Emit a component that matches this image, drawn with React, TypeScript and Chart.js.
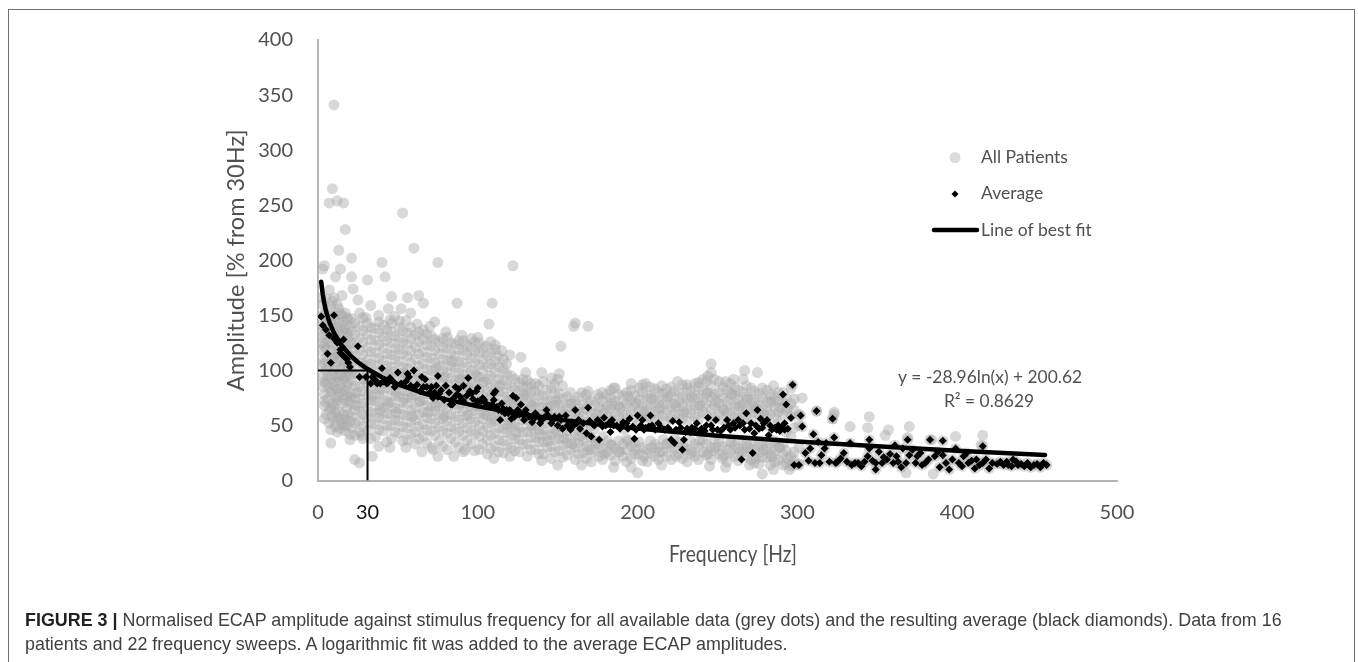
import React, { useEffect, useRef } from "react";
import { Chart, registerables } from "chart.js";

Chart.register(...registerables);

const X_TICKS = [0, 31, 100, 200, 300, 400, 500];
const Y_TICKS = [0, 50, 100, 150, 200, 250, 300, 350, 400];

const greyOutliers = [[10,341],[9,265],[7,252],[12,254],[16,252],[53,243],[17,228],[13,209],[60,211],[21,202],[40,198],[75,198],[4,195],[3,192],[14,192],[11,185],[21,185],[31,182],[42,185],[15,168],[7,173],[22,174],[25,164],[46,167],[56,166],[63,168],[66,161],[87,161],[33,159],[44,156],[52,156],[58,152],[51,145],[45,146],[73,144],[2,166],[122,195],[109,161],[107,142],[161,143],[160,140],[169,140],[152,122],[120,114],[127,112],[111,123],[105,122],[96,129],[246,106],[267,100],[275,98],[244,95],[297,87],[196,88],[185,84],[169,81],[231,87],[238,89],[303,75],[312,63],[323,62],[322,56],[200,7],[196,12],[278,6],[323,60],[333,49],[345,58],[344,48],[357,46],[355,41],[370,49],[369,39],[384,37],[399,40],[416,41],[415,32],[368,7],[385,6],[8,34],[20,37],[27,41],[28,38],[23,19],[26,16],[34,22],[38,31],[72,28],[92,28],[16,50],[14,47]];

const greyColsLow = [
  [2,105,118,130,148],[3,85,94,125,140,160],[4,68,78,110,133,152],[5,60,88,100,120,143,165],[6,74,94,112,126,155],[7,52,64,84,104,136,148],
  [9,58,70,82,96,110,124,138,163],[11,49,62,76,90,102,115,130,150],[13,62,76,90,115,128,144,156],[15,52,70,84,102,120,136,150],[17,45,56,82,94,108,122,138,152],[19,60,72,88,100,114,130,146],
  [21,48,58,69,79,91,101,113,124,136,147],[26,44,54,63,74,85,96,107,118,129,140,152],[31,46,57,67,78,89,99,110,121,133,143],[36,40,51,61,72,83,94,105,116,127,138],
  [41,45,56,66,77,88,98,109,120,131,141],[46,38,50,60,71,82,93,103,114,125,135,143],[51,43,54,65,76,87,97,108,119,129,139],[56,37,48,59,70,81,91,102,113,124,134],
];
const greyColsLow2 = [
  [4,56,72,90,106,122,138,150],[8,46,66,80,92,118,130,144,158],[10,54,68,86,100,112,134,146,166],[12,44,58,72,94,108,122,138,160],[14,56,80,96,110,125,140,152],[16,60,74,92,106,116,132,144],[18,50,66,86,102,118,134,148],[20,42,54,76,96,108,126,140],
  [23,41,52,64,75,86,97,109,120,132,143],[28,49,60,70,81,92,103,114,125,136,148],[33,38,52,62,73,84,95,106,117,128,139],[38,46,57,68,78,90,100,111,123,134,144],[43,35,50,61,72,84,94,104,115,127,137],[48,44,55,66,77,88,99,110,120,131],[53,36,49,60,71,82,93,103,115,125,136],[58,42,53,64,75,86,96,107,118,129,139],
];
const greyColsMid = [
  [61,33,44,55,66,77,88,99,110,121,132],[66,40,51,62,73,84,95,106,117,128,137],[71,30,45,56,67,78,89,100,111,122,131],[76,36,49,60,71,82,93,104,115,126],
  [81,28,43,54,65,76,87,98,109,120,130],[86,35,47,58,69,80,91,102,113,124],[91,26,41,52,63,74,85,96,107,118,127],[96,33,45,56,67,78,89,100,111,121],
  [101,28,40,50,61,72,83,94,105,116,125],[106,24,37,48,59,70,81,92,103,113],[111,31,43,54,65,76,87,98,108,119],[116,25,36,47,58,69,80,91,101,110],
  [121,30,41,52,63,74,85,95],[126,26,37,48,59,70,80,89],[131,22,33,44,55,66,76,85,91],[136,28,39,50,61,71,81,88],[141,24,35,46,57,67,77,90],[146,20,31,42,53,63,73,84,93],
  [151,27,38,49,59,69,79,97],[156,23,34,45,56,66,76],[161,19,30,41,52,62,72],[166,25,36,47,58,69],[171,17,28,39,50,61,72],[176,22,33,55,66,75],
];
const greyColsMid2 = [
  [63,38,49,60,71,82,93,104,115,126,135],[68,34,46,57,68,79,90,101,112,123,133],[73,41,52,63,74,85,96,107,118,128],[78,31,45,56,67,78,89,100,110,121,129],[83,38,49,60,71,82,93,104,115,125],[88,30,44,55,66,77,88,98,108,119,127],[93,36,48,59,70,81,92,103,114,123],[98,27,42,53,64,75,86,97,107,117,126],
  [103,33,45,56,67,78,89,100,110,120],[108,29,41,52,63,74,85,95,106,116],[113,26,37,48,59,70,81,92,103,113],[118,32,44,55,66,76,87,97,106],[123,27,38,50,60,71,82,92],[128,33,44,55,65,75,85,92],[133,28,39,50,60,71,80,88],[138,24,35,46,57,67,77,86],
  [143,30,41,52,62,72,82],[148,26,37,47,58,68,79,88],[153,21,32,43,54,64,74,86],[158,28,38,50,60,70,80],[163,24,34,45,56,66,76],[168,20,31,42,53,65,78],[173,26,36,47,57,68],[178,19,29,40,60,72,80],
];
const greyColsHigh = [
  [181,26,36,58,68,78],[186,18,29,52,62,72,84],[191,22,33,47,57,67,77],[196,20,31,62,72,82],[201,24,35,53,64,74,84],[206,17,28,58,68,78],[211,22,33,54,63,73,83],[216,26,37,59,69,79],
  [221,19,30,56,66,76,85],[226,24,35,60,71,80],[231,17,28,54,64,74,84],[236,22,33,58,68,78,88],[241,26,37,62,72,82,92],[246,19,30,55,65,76,86,98],[251,24,35,60,70,80,90],[256,17,28,52,62,72,82],
  [261,22,32,57,67,77,85],[266,26,36,60,70,80,92],[271,19,29,55,65,74,84],[276,15,25,34,60,69,79],[281,21,30,50,63,72,82],[286,17,27,36,57,67,76],[291,14,24,33,60,71,80],[296,13,22,40,58,70,84],[301,15,30,50,60],
];
const greyColsHigh2 = [
  [183,23,33,55,65,75,82],[188,26,36,58,68,78],[193,17,28,38,60,70,80],[198,24,34,57,67,77],[203,18,30,60,70,80,87],[208,25,36,55,65,75,85],[213,19,30,60,70,80],[218,22,33,54,64,74,83],
  [223,28,38,60,70,81],[228,20,31,56,67,76,87],[233,24,36,61,71,81],[238,19,30,55,65,75,85],[243,23,33,60,70,79,90],[248,27,37,58,68,78,92],[253,20,31,55,65,75,85],[258,25,35,59,69,79,88],
  [263,18,29,54,63,73,82],[268,22,33,58,66,76,86],[273,16,27,36,62,71,81],[278,21,31,55,65,75,84],[283,14,24,34,60,70,78],[288,19,30,52,62,72,80],[293,15,27,44,64,75],[298,18,26,48,64,74],
];
const greyInner = [[15,95],[12,83],[18,77],[24,68],[24,80],[29,92],[29,105],[34,76],[34,90],[39,64],[39,83],[44,70],[44,96],[49,62],[49,80],[54,74],[54,98],[59,58],[59,78],[64,72],[64,92],[69,62],[69,84],[74,68],[74,102],[79,58],[79,94],[84,78],[84,108],[89,70],[89,92],[94,60],[94,84],[99,68],[99,95],[104,60],[104,90],[109,56],[109,78],[114,62],[114,86],[119,50],[119,72],[124,44],[124,66],[129,58],[129,78],[134,48],[134,68],[139,42],[139,60],[144,36],[144,66],[149,45],[149,72],[154,38],[154,60],[159,33],[159,70],[164,40],[164,62],[169,28],[169,72],[174,34],[174,60],[179,24],[179,64],[184,32],[184,70],[189,26],[189,66],[194,36],[194,76],[199,28],[199,70],[204,22],[204,62],[209,30],[209,74],[214,26],[214,66],[219,34],[219,76],[224,22],[224,68],[229,30],[229,62],[234,26],[234,76],[239,36],[239,68],[244,24],[244,80],[249,30],[249,72],[254,22],[254,64],[259,34],[259,78],[264,26],[264,68],[269,30],[269,74],[274,20],[274,66],[279,28],[279,60],[284,22],[284,72],[289,30],[289,66],[294,20],[294,66]];
const greyTopEdge = [[30,148],[38,150],[48,149],[55,145],[62,142],[70,140],[80,135],[90,132],[100,130],[108,126],[115,118],[130,98],[140,98],[150,92],[165,80],[175,78],[205,88],[215,86],[225,90],[255,90],[260,92],[285,86]];
const greyLowEdge = [[45,30],[55,30],[65,26],[75,22],[85,22],[110,20],[120,22],[140,18],[150,14],[165,14],[185,12],[215,14],[245,13],[255,12],[270,14],[285,10],[295,10]];

const avgEarly = [[2,149],[10,150],[3,141],[5,137],[7,132],[10,129],[16,128],[12,125],[14,119],[25,122],[6,115],[8,107],[19,107],[16,113],[40,102],[50,98],[60,100],[56,97],[65,94],[75,95],[94,93],[66,85],[74,86],[80,86],[86,85],[91,86],[100,84],[95,81],[26,94],[30,94],[34,94],[33,88],[37,88],[43,88],[48,85],[60,84],[64,81],[72,75],[79,73],[84,69],[90,73],[91,72],[57,94],[67,92],[71,85],[77,82],[88,83],[99,81],[45,93],[44,89],[39,88],[20,103],[14,116],[18,110],[99,69],[75,76],[83,69],[85,75]];
const avgBand = [[36,91],[41,90],[47,90],[52,88],[55,90],[58,86],[62,87],[68,85],[70,80],[73,80],[76,79],[82,80],[87,78],[89,76],[93,77],[97,74],[100,72],[104,73],[107,68],[109,69],[113,64],[116,65],[119,61],[123,58],[125,64],[128,60],[132,58],[135,56],[138,58],[140,55],[144,59],[148,58],[152,55],[156,50],[159,53],[162,52],[166,52],[170,54],[172,51],[177,52],[180,50],[182,52],[185,50],[190,50],[193,52],[197,49],[199,46],[202,50],[204,46],[209,50],[211,46],[214,48],[217,46],[220,46],[227,48],[230,44],[233,44],[236,47],[239,44],[242,45],[246,50],[250,46],[254,48],[257,50],[260,52],[264,50],[267,46],[271,52],[274,50],[276,47],[279,52],[283,50],[286,48],[288,50],[290,48],[292,52]];
const avgMid = [[111,81],[110,79],[122,77],[124,75],[127,69],[114,55],[121,56],[96,79],[103,75],[110,73],[115,70],[117,61],[120,64],[126,62],[130,64],[129,55],[134,53],[139,52],[136,61],[143,64],[142,58],[146,52],[151,58],[150,50],[153,47],[158,46],[161,64],[169,66],[155,59],[164,47],[168,43],[171,40],[176,37],[175,55],[179,57],[184,55],[183,44],[191,53],[195,56],[198,38],[200,59],[203,55],[208,59],[213,52],[102,72],[105,70],[112,67],[115,63],[118,64],[122,61],[126,60],[130,61],[147,55],[160,50],[163,55],[173,50],[178,49],[187,50],[189,47],[194,47],[205,48],[207,49]];
const avgLateBand = [[219,48],[222,54],[226,53],[221,37],[223,34],[229,37],[228,28],[224,46],[231,47],[237,52],[244,57],[249,55],[256,55],[263,55],[268,61],[275,64],[277,56],[281,55],[270,47],[273,43],[265,19],[272,25],[291,78],[293,69],[297,87],[296,57],[294,47],[282,41],[287,46],[215,48],[234,48],[240,47],[243,50],[247,46],[252,45],[258,46],[261,48],[266,52],[278,48],[284,46],[289,45],[292,46]];
const avgLate = [[302,59],[303,49],[312,63],[322,56],[323,39],[308,29],[313,35],[317,29],[315,23],[307,18],[311,16],[314,16],[320,17],[325,17],[298,14],[301,14],[333,34],[345,37],[345,29],[329,25],[324,16],[334,14],[338,16],[342,17],[349,10],[349,16],[353,16],[354,21],[358,24],[361,32],[366,29],[363,17],[365,12],[369,37],[370,23],[375,22],[374,16],[380,16],[383,37],[391,36],[386,22],[391,23],[393,16],[395,10],[399,29],[404,22],[407,16],[411,11],[412,19],[416,31],[418,19],[420,11],[425,15],[429,14],[432,14],[435,19],[438,14],[442,13],[448,14],[452,12],[456,14]];
const avgLateLow = [[305,25],[310,42],[318,34],[327,20],[331,17],[336,16],[340,13],[344,22],[347,18],[351,26],[356,19],[360,16],[362,22],[368,16],[372,28],[377,25],[378,14],[382,19],[388,26],[389,12],[397,19],[401,16],[403,13],[406,25],[409,18],[414,14],[416,16],[422,16],[427,17],[431,17],[434,13],[437,17],[440,15],[444,16],[446,12],[450,15],[454,16]];

const fitX = [2,3,4,5,7,10,14,20,25,31,40,50,65,80,100,125,150,175,200,250,300,350,400,455];
const fitY = [180.5,168.8,160.5,154,144.3,134,124.2,113.9,107.4,101.2,93.8,87.3,79.7,73.7,67.3,60.8,55.5,51,47.2,40.7,35.4,31,27,23.2];
const refX = [0,31,31];
const refY = [100,100,0];

const GREY_POINT = "rgba(170,170,170,0.46)";
const AXIS_TEXT = "#505050";
const FONT = "Lato";

const pairs = (xs: number[], ys: number[]) => xs.map((x, i) => ({ x, y: ys[i] }));
const fromPairs = (list: number[][]) => list.map(([x, y]) => ({ x, y }));
const fromColumns = (list: number[][]) => list.flatMap(([x, ...ys]) => ys.map((y) => ({ x, y })));

const notes = {
  id: "notes",
  afterDraw(chart: any) {
    const { ctx } = chart;
    ctx.save();
    ctx.textBaseline = "middle";
    ctx.fillStyle = "#505050";
    ctx.font = `17.5px ${FONT}`;
    ctx.textAlign = "left";
    ctx.fillText("All Patients", 981, 157);
    ctx.fillText("Average", 981, 193);
    ctx.fillText("Line of best fit", 981, 230);
    ctx.textAlign = "center";
    ctx.font = `17.4px ${FONT}`;
    ctx.fillText("y = -28.96ln(x) + 200.62", 990, 377);
    ctx.fillText("R² = 0.8629", 989, 401);
    ctx.save();
    ctx.translate(733, 555);
    ctx.scale(1, 1.18);
    ctx.font = `19.3px ${FONT}`;
    ctx.fillText("Frequency [Hz]", 0, 0);
    ctx.restore();
    ctx.fillStyle = "#dcdcdc";
    ctx.beginPath();
    ctx.arc(955, 157.5, 5.5, 0, Math.PI * 2);
    ctx.fill();
    ctx.fillStyle = "#000";
    ctx.beginPath();
    ctx.moveTo(955, 190.5);
    ctx.lineTo(958.5, 194);
    ctx.lineTo(955, 197.5);
    ctx.lineTo(951.5, 194);
    ctx.closePath();
    ctx.fill();
    ctx.strokeStyle = "#000";
    ctx.lineWidth = 4.5;
    ctx.lineCap = "round";
    ctx.beginPath();
    ctx.moveTo(934, 230);
    ctx.lineTo(977, 230);
    ctx.stroke();
    ctx.restore();
  },
};

export default function App() {
  const ref = useRef<HTMLCanvasElement | null>(null);
  useEffect(() => {
    document.body.style.margin = "0";
    const chart = new Chart(ref.current as HTMLCanvasElement, {
      type: "scatter",
      data: {
        datasets: [
          {
            label: "Line of best fit",
            data: pairs(fitX, fitY),
            showLine: true,
            borderColor: "#000",
            borderWidth: 4.5,
            borderCapStyle: "round",
            borderJoinStyle: "round",
            pointRadius: 0,
            order: 1,
          },
          {
            label: "Reference",
            data: pairs(refX, refY),
            showLine: true,
            borderColor: "#000",
            borderWidth: 2,
            pointRadius: 0,
            order: 2,
          },
          {
            label: "Average",
            data: fromPairs([...avgEarly, ...avgBand, ...avgMid, ...avgLateBand, ...avgLate, ...avgLateLow]),
            pointStyle: "rectRot",
            pointRadius: 4,
            backgroundColor: "#000",
            borderWidth: 0,
            order: 3,
          },
          {
            label: "All Patients",
            data: [
              ...fromPairs(greyOutliers),
              ...fromColumns(greyColsLow),
              ...fromColumns(greyColsLow2),
              ...fromColumns(greyColsMid),
              ...fromColumns(greyColsMid2),
              ...fromColumns(greyColsHigh),
              ...fromColumns(greyColsHigh2),
              ...fromPairs(greyInner),
              ...fromPairs(greyTopEdge),
              ...fromPairs(greyLowEdge),
              ...fromPairs(avgLate),
              ...fromPairs(avgLateLow),
            ],
            pointStyle: "circle",
            pointRadius: 5.5,
            backgroundColor: GREY_POINT,
            borderWidth: 0,
            order: 4,
          },
        ],
      },
      options: {
        animation: false,
        responsive: false,
        layout: { padding: { left: 218, right: 241, top: 40, bottom: 81.5 } },
        plugins: { legend: { display: false }, tooltip: { enabled: false } },
        scales: {
          x: {
            type: "linear",
            min: 0,
            max: 500,
            afterBuildTicks: (s: any) => {
              s.ticks = X_TICKS.map((value) => ({ value }));
            },
            afterFit: (s: any) => {
              s.height = 100;
            },
            grid: { display: false, drawTicks: false },
            border: { display: true, color: "#b4b4b4", width: 2 },
            ticks: {
              autoSkip: false,
              maxRotation: 0,
              padding: 20,
              color: (c: any) => (c.tick.value === 31 ? "#111" : AXIS_TEXT),
              font: { family: FONT, size: 20 },
              callback: (v: any) => (v === 31 ? "30" : String(v)),
            },
          },
          y: {
            min: 0,
            max: 400,
            afterBuildTicks: (s: any) => {
              s.ticks = Y_TICKS.map((value) => ({ value }));
            },
            afterFit: (s: any) => {
              s.width = 100;
            },
            grid: { display: false, drawTicks: false },
            border: { display: true, color: "#b4b4b4", width: 2 },
            ticks: {
              padding: 25,
              color: AXIS_TEXT,
              font: { family: FONT, size: 20 },
            },
            title: {
              display: true,
              text: "Amplitude [% from 30Hz]",
              color: AXIS_TEXT,
              font: { family: FONT, size: 23.5 },
              padding: { top: 4, bottom: 0 },
            },
          },
        },
      },
      plugins: [notes],
    } as any);
    return () => chart.destroy();
  }, []);

  return (
    <div style={{ position: "fixed", left: 0, top: 0, width: 1358, height: 662, overflow: "hidden", background: "#fff" }}>
      <div style={{ position: "absolute", left: 8, top: 9, width: 1347, height: 700, border: "1.5px solid #707070", boxSizing: "border-box" }} />
      <canvas ref={ref} width={1358} height={662} style={{ position: "absolute", left: 0, top: 0 }} />
      <div style={{ position: "absolute", left: 25, top: 608, whiteSpace: "nowrap", font: "17.9px/24px 'Liberation Sans', sans-serif", color: "#404040" }}>
        <b style={{ color: "#222" }}>FIGURE 3 |</b> Normalised ECAP amplitude against stimulus frequency for all available data (grey dots) and the resulting average (black diamonds). Data from 16
        <br />
        patients and 22 frequency sweeps. A logarithmic fit was added to the average ECAP amplitudes.
      </div>
    </div>
  );
}
